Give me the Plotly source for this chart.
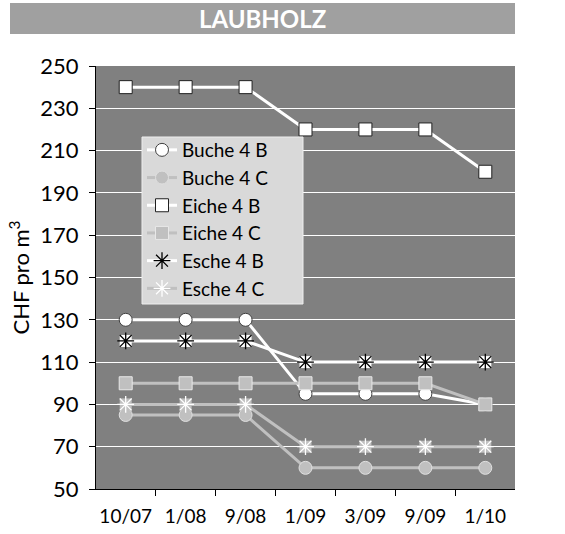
import plotly.graph_objects as go

categories = ["10/07", "1/08", "9/08", "1/09", "3/09", "9/09", "1/10"]
buche_4b = [130, 130, 130, 95, 95, 95, 90]
buche_4c = [85, 85, 85, 60, 60, 60, 60]
eiche_4b = [240, 240, 240, 220, 220, 220, 200]
eiche_4c = [100, 100, 100, 100, 100, 100, 90]
esche_4b = [120, 120, 120, 110, 110, 110, 110]
esche_4c = [90, 90, 90, 70, 70, 70, 70]
y_ticks = [50, 70, 90, 110, 130, 150, 170, 190, 210, 230, 250]

WHITE = "#ffffff"
LGRAY = "#c0c0c0"
FONT = "Lato"

fig = go.Figure()

def add(name, y, lcolor, symbol, mcolor, mline_color, mline_w, size=13):
    fig.add_trace(go.Scatter(
        x=categories, y=y, name=name, mode="lines+markers",
        line=dict(color=lcolor, width=3),
        marker=dict(symbol=symbol, size=size, color=mcolor,
                    line=dict(color=mline_color, width=mline_w)),
        legendgroup=name,
    ))

def underlay(name, y, color, size=12):
    fig.add_trace(go.Scatter(
        x=categories, y=y, mode="markers", showlegend=False, legendgroup=name,
        marker=dict(symbol="square", size=size, color=color,
                    line=dict(color=color, width=0)),
        hoverinfo="skip",
    ))

add("Buche 4 B", buche_4b, WHITE, "circle", WHITE, "#404040", 1)
add("Buche 4 C", buche_4c, LGRAY, "circle", LGRAY, "#e0e0e0", 1)
add("Eiche 4 B", eiche_4b, WHITE, "square", WHITE, "#202020", 1)
add("Eiche 4 C", eiche_4c, LGRAY, "square", LGRAY, "#e8e8e8", 1)
underlay("Esche 4 B", esche_4b, WHITE)
add("Esche 4 B", esche_4b, WHITE, "asterisk", "#000000", "#000000", 1.3, size=14)
underlay("Esche 4 C", esche_4c, LGRAY)
add("Esche 4 C", esche_4c, LGRAY, "asterisk", WHITE, WHITE, 1.3, size=14)

L, R, T, B = 96, 50, 66, 45
W, H = 565, 534
pw = W - L - R
ph = H - T - B

fig.add_shape(type="rect", xref="paper", yref="paper",
              x0=(10 - L) / pw, x1=(515 - L) / pw,
              y0=1 + (T - 34) / ph, y1=1 + (T - 3) / ph,
              fillcolor="#a0a0a0", line=dict(width=0), layer="below")
# legend box background
fig.add_shape(type="rect", xref="paper", yref="paper",
              x0=(142 - L) / pw, x1=(303 - L) / pw,
              y0=1 - (304 - T) / ph, y1=1 - (137 - T) / ph,
              fillcolor="#d9d9d9", line=dict(color="#eeeeee", width=1), layer="above")
fig.add_annotation(text="<b>LAUBHOLZ</b>", xref="paper", yref="paper",
                   x=(262.5 - L) / pw, y=1 + (T - 18.5) / ph,
                   xanchor="center", yanchor="middle", showarrow=False,
                   font=dict(family=FONT, size=24, color="white"))

fig.update_layout(
    width=W, height=H,
    margin=dict(l=L, r=R, t=T, b=B, autoexpand=False),
    paper_bgcolor="white", plot_bgcolor="#808080",
    font=dict(family=FONT, size=18, color="black"),
    legend=dict(x=(142 - L) / pw, y=1 - (131 - T) / ph, xanchor="left", yanchor="top",
                bgcolor="rgba(0,0,0,0)", borderwidth=0,
                font=dict(family=FONT, size=19, color="black"),
                itemwidth=30, tracegroupgap=0),
    xaxis=dict(type="category", tickson="boundaries", ticks="outside", ticklen=6,
               tickcolor="black", showline=True, linecolor="black", linewidth=1,
               showgrid=False, ticklabelstandoff=10, tickangle=0, automargin=False,
               tickfont=dict(family=FONT, size=19)),
    yaxis=dict(range=[50, 250], tickvals=y_ticks, ticks="outside", ticklen=6,
               tickcolor="black", showline=True, linecolor="black", linewidth=1,
               showgrid=True, gridcolor="white", gridwidth=1, zeroline=False,
               ticklabelstandoff=6, automargin=False,
               tickfont=dict(family=FONT, size=22),
               title=dict(text="CHF pro m<sup>3</sup>", standoff=4,
                          font=dict(family=FONT, size=22))),
)

fig.write_html("out.html", config={"displayModeBar": False},
               post_script="document.body.style.margin='0';document.body.style.overflow='hidden';")
